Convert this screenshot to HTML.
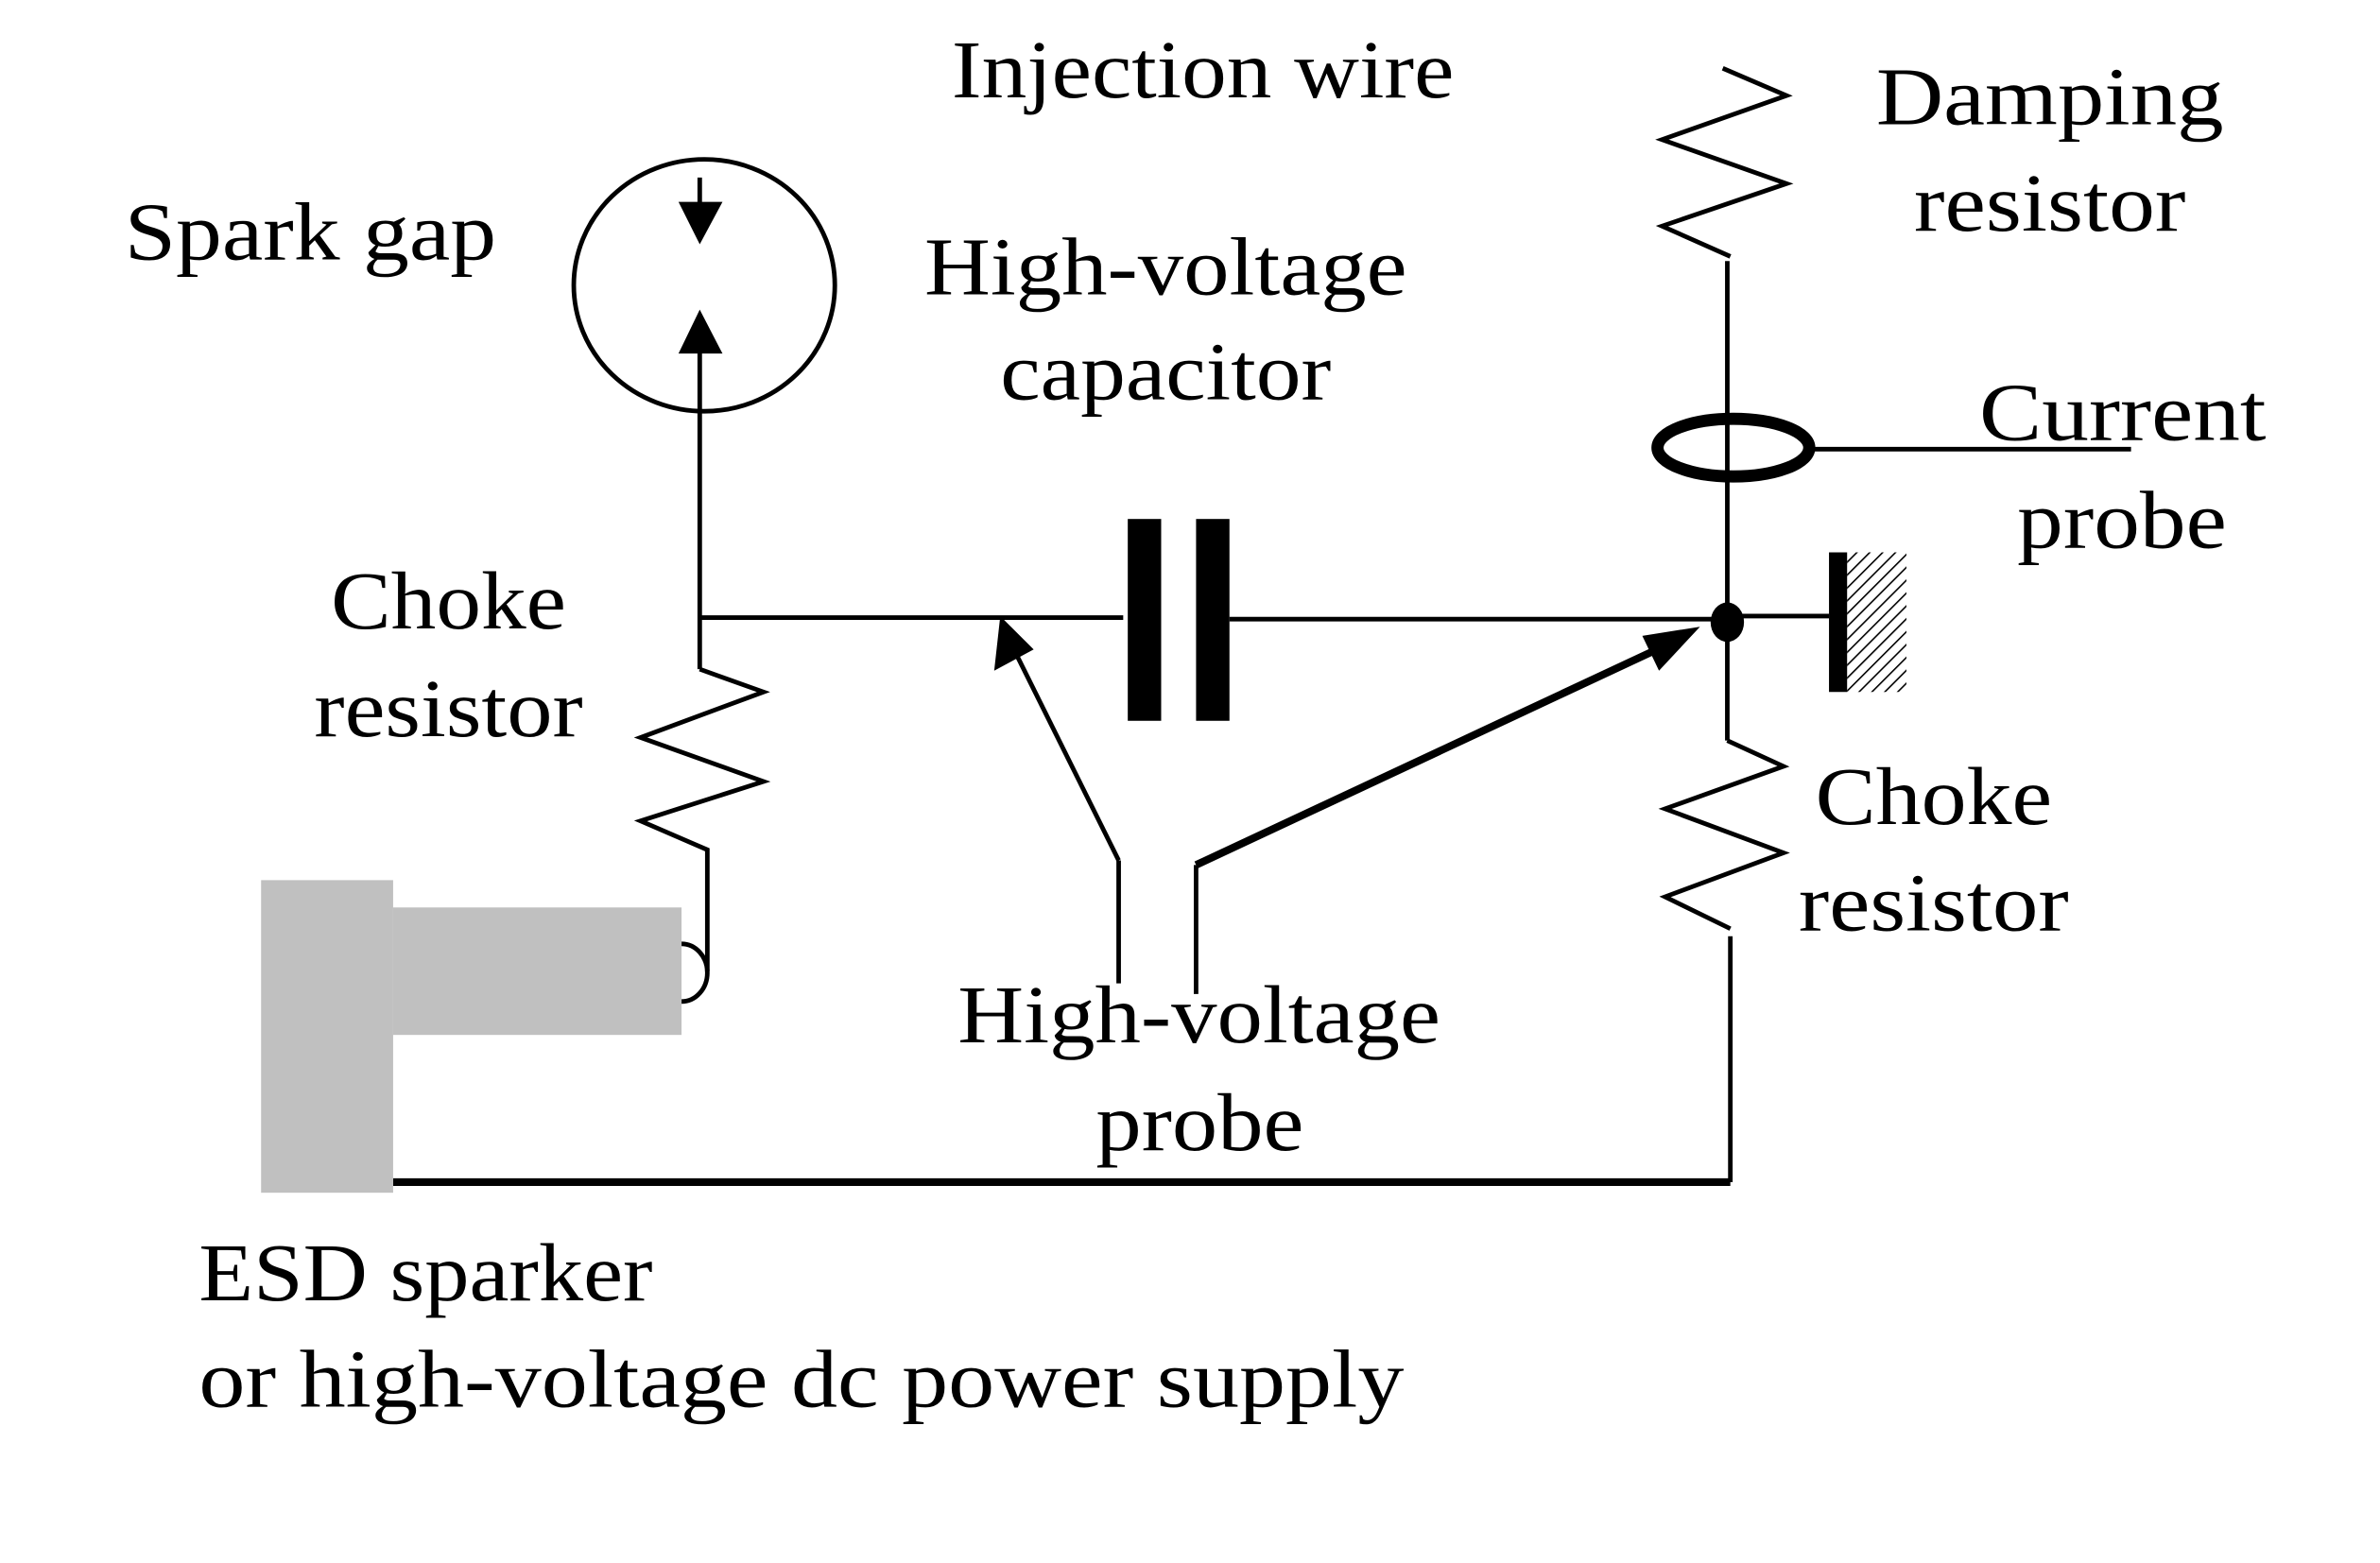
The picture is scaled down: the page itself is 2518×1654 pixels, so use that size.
<!DOCTYPE html>
<html><head><meta charset="utf-8"><style>
html,body{margin:0;padding:0;background:#fff;}
svg{display:block;}
text{font-family:"Liberation Serif",serif;font-size:54px;fill:#000;}
</style></head><body>
<svg width="2518" height="1654" viewBox="0 0 1568 1030" xmlns="http://www.w3.org/2000/svg">
<defs>
<pattern id="h" width="6" height="6" patternUnits="userSpaceOnUse" patternTransform="rotate(45)">
<rect width="6" height="6" fill="#fff"/><line x1="0" y1="0" x2="0" y2="6" stroke="#000" stroke-width="2"/>
</pattern>
</defs>
<rect width="1568" height="1030" fill="#fff"/>
<!-- texts -->
<text x="627" y="64" textLength="331" lengthAdjust="spacingAndGlyphs">Injection wire</text>
<text x="82" y="171" textLength="245" lengthAdjust="spacingAndGlyphs">Spark gap</text>
<text x="609" y="194" textLength="318" lengthAdjust="spacingAndGlyphs">High-voltage</text>
<text x="659" y="263" textLength="218" lengthAdjust="spacingAndGlyphs">capacitor</text>
<text x="1236" y="82" textLength="229" lengthAdjust="spacingAndGlyphs">Damping</text>
<text x="1261" y="152" textLength="179" lengthAdjust="spacingAndGlyphs">resistor</text>
<text x="1304" y="290" textLength="189" lengthAdjust="spacingAndGlyphs">Current</text>
<text x="1329" y="361" textLength="138" lengthAdjust="spacingAndGlyphs">probe</text>
<text x="218" y="414" textLength="155" lengthAdjust="spacingAndGlyphs">Choke</text>
<text x="207" y="485" textLength="177" lengthAdjust="spacingAndGlyphs">resistor</text>
<text x="1196" y="543" textLength="156" lengthAdjust="spacingAndGlyphs">Choke</text>
<text x="1185" y="613" textLength="178" lengthAdjust="spacingAndGlyphs">resistor</text>
<text x="631" y="687" textLength="318" lengthAdjust="spacingAndGlyphs">High-voltage</text>
<text x="722" y="758" textLength="137" lengthAdjust="spacingAndGlyphs">probe</text>
<text x="131" y="857" textLength="299" lengthAdjust="spacingAndGlyphs">ESD sparker</text>
<text x="131" y="927" textLength="794" lengthAdjust="spacingAndGlyphs">or high-voltage dc power supply</text>

<g stroke="#000" fill="none" stroke-width="3">
<!-- spark gap -->
<ellipse cx="464" cy="188" rx="86" ry="83"/>
<line x1="461" y1="117" x2="461" y2="137"/>
<line x1="461" y1="225" x2="461" y2="441"/>
<line x1="461" y1="407" x2="740" y2="407"/>
<polyline points="461,441 503,456 422,486 503,515 422,541 466,560 466,640"/>
<!-- capacitor to node -->
<line x1="810" y1="408" x2="1138" y2="408"/>
<line x1="1138" y1="172" x2="1138" y2="488"/>
<line x1="1138" y1="406" x2="1205" y2="406"/>
<polyline points="1135,45 1177,63 1095,92 1177,121 1095,149 1140,169"/>
<polyline points="1138,488 1175,505 1097,533 1175,562 1097,591 1140,612"/>
<line x1="1140" y1="617" x2="1140" y2="779"/>
<line x1="1195" y1="296" x2="1404" y2="296"/>
<ellipse cx="1142" cy="295" rx="50" ry="19" stroke-width="8"/>
<!-- probe -->
<line x1="737" y1="567" x2="737" y2="648"/>
<line x1="788" y1="570" x2="788" y2="655"/>
<line x1="737" y1="567" x2="668" y2="428"/>
<line x1="788" y1="570" x2="1098" y2="425" stroke-width="5"/>
<line x1="259" y1="779" x2="1140" y2="779" stroke-width="5"/>
<path d="M449,622 A17,19 0 0 1 449,660"/>
</g>
<!-- arrowheads -->
<polygon points="461,161 447,133 476,133"/>
<polygon points="461,204 447,233 476,233"/>
<polygon points="659,406 655,442 681,428"/>
<polygon points="1120,413 1082,419 1093,442"/>
<!-- plates -->
<rect x="743" y="342" width="22" height="133"/>
<rect x="788" y="342" width="22" height="133"/>
<ellipse cx="1138" cy="410" rx="11" ry="13"/>
<rect x="1205" y="364" width="12" height="92"/>
<rect x="1217" y="364" width="39" height="92" fill="url(#h)"/>
<!-- gray sparker -->
<rect x="172" y="580" width="87" height="206" fill="#c0c0c0"/>
<rect x="259" y="598" width="190" height="84" fill="#c0c0c0"/>
</svg>
</body></html>
